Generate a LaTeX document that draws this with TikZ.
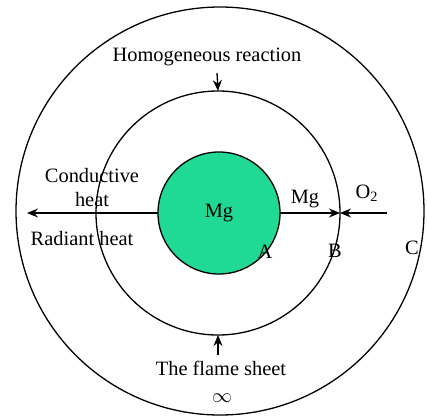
\documentclass[tikz,border=0pt]{standalone}
\usepackage{fontspec}
\setmainfont{Liberation Serif}
\usetikzlibrary{arrows.meta,positioning}
\definecolor{mggreen}{HTML}{1FD994}

\begin{document}
\begin{tikzpicture}[
  x=0.5pt,y=-0.5pt,
  ring/.style={draw,circle,line width=0.65pt,inner sep=0pt,outer sep=0pt},
  txt/.style={font=\fontsize{10.2}{12}\selectfont,inner sep=0pt,align=center},
  arrow/.style={-{Stealth[length=5.5pt,width=4.5pt]},line width=0.65pt}
]
\useasboundingbox (0,0) rectangle (427,418);
\node[ring,minimum size=204pt] (outer) at (220,211) {};
\node[ring,minimum size=122pt] (flame) at (218,213) {};
\node[ring,fill=mggreen,minimum size=61pt,txt] (core) at (219,213) {Mg};
% labels
\node[txt] (homog) at (207,57) {Homogeneous reaction};
\node[txt] (sheet) at (221,368) {The flame sheet};
\node[txt] (inf) at (222,398) {$\infty$};
\node[txt] (cond) at (92,188) {Conductive\\heat};
\node[txt] (rad) at (82,239) {Radiant heat};
\node[txt] (mgout) at (305,199) {Mg};
\node[txt] (oxy) at (367,193) {O\textsubscript{2}};
\node[txt] (ptA) at (265,252) {A};
\node[txt] (ptB) at (335,251) {B};
\node[txt] (ptC) at (412,248) {C};
\coordinate (heatend) at (27,213);
\coordinate (oxyend) at (387,213);
\coordinate (homogend) at (217,73);
\coordinate (sheetend) at (218,355);
% arrows
\draw[arrow,{Stealth[length=5.5pt,width=4.5pt]}-] (heatend) -- (core.west);
\draw[arrow] (core.east) -- (flame.east);
\draw[arrow] (oxyend) -- (flame.east);
\draw[arrow] (homogend) -- (flame.north);
\draw[arrow] (sheetend) -- (flame.south);
\end{tikzpicture}
\end{document}
